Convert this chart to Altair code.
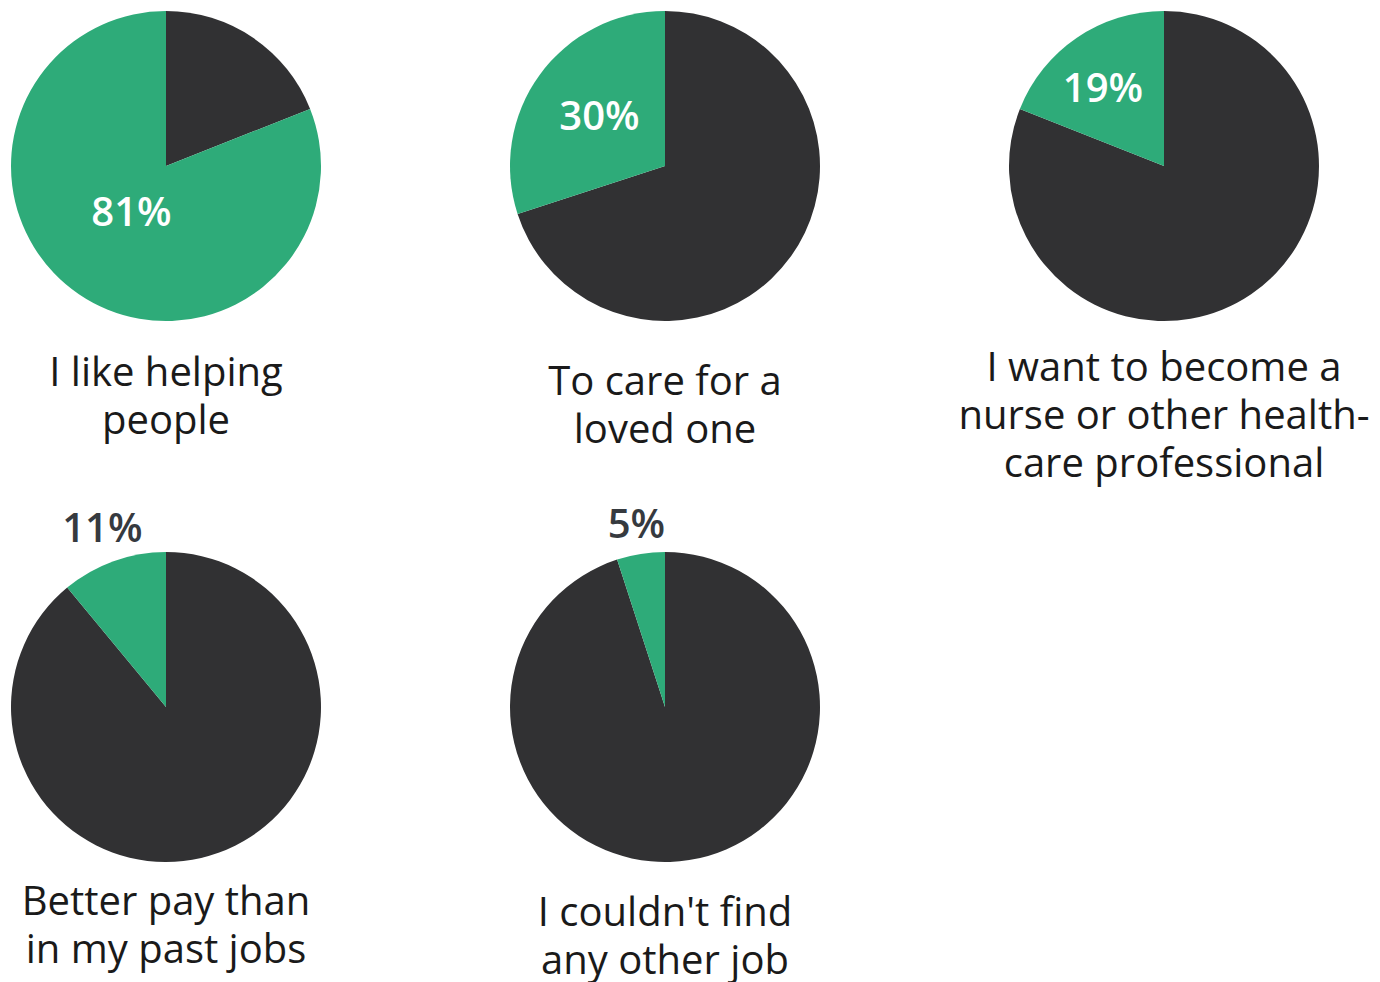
import altair as alt
import pandas as pd

questions = [
    "I like helping\npeople",
    "To care for a\nloved one",
    "I want to become a\nnurse or other health-\ncare professional",
    "Better pay than\nin my past jobs",
    "I couldn't find\nany other job",
]
shares = [81, 30, 19, 11, 5]

GREEN = "#2eab79"
DARK = "#313133"

# per-panel styling: percentage label radius/nudge, label colour, question baseline
pct_radius = [58, 81, 98, 188, 183]
pct_nudge = [(-2, 0), (0, 0), (-6, 5), (0, 0), (0, 0)]
pct_color = ["white", "white", "white", "#363a3f", "#363a3f"]
label_y = [378, 387, 373, 366, 377]

PW, PH = 316, 316


def panel(i):
    s = shares[i]
    df = pd.DataFrame({
        "part": ["No", "Yes"],
        "value": [100 - s, s],
        "order": [0, 1],
        "pct": ["", f"{s}%"],
        "question": [questions[i], questions[i]],
    })
    base = alt.Chart(df)
    arc = base.mark_arc(outerRadius=155).encode(
        theta=alt.Theta("value:Q", stack=True),
        order=alt.Order("order:Q"),
        color=alt.Color("part:N", scale=alt.Scale(domain=["Yes", "No"], range=[GREEN, DARK]), legend=None),
    )
    pct = base.mark_text(
        radius=pct_radius[i], font="Open Sans", fontSize=40, fontWeight=600,
        color=pct_color[i], align="center", baseline="middle",
        dx=pct_nudge[i][0], dy=pct_nudge[i][1],
    ).encode(
        theta=alt.Theta("value:Q", stack=True),
        order=alt.Order("order:Q"),
        text="pct:N",
    )
    lab = base.transform_filter("datum.part == 'Yes'").mark_text(
        font="Open Sans", fontSize=40, fontWeight=400, color="#1a1a1a", lineBreak="\n",
        lineHeight=48, align="center", baseline="alphabetic",
    ).encode(
        x=alt.value(PW / 2), y=alt.value(label_y[i]), text="question:N",
    )
    return alt.layer(arc, pct, lab).properties(width=PW, height=PH)


chart = alt.concat(
    *[panel(i) for i in range(5)],
    columns=3,
    spacing={"row": 225, "column": 183},
    bounds="flush",
).properties(padding=0).configure_view(stroke=None)

chart.save("out.html", embed_options={"renderer": "svg", "actions": False})
